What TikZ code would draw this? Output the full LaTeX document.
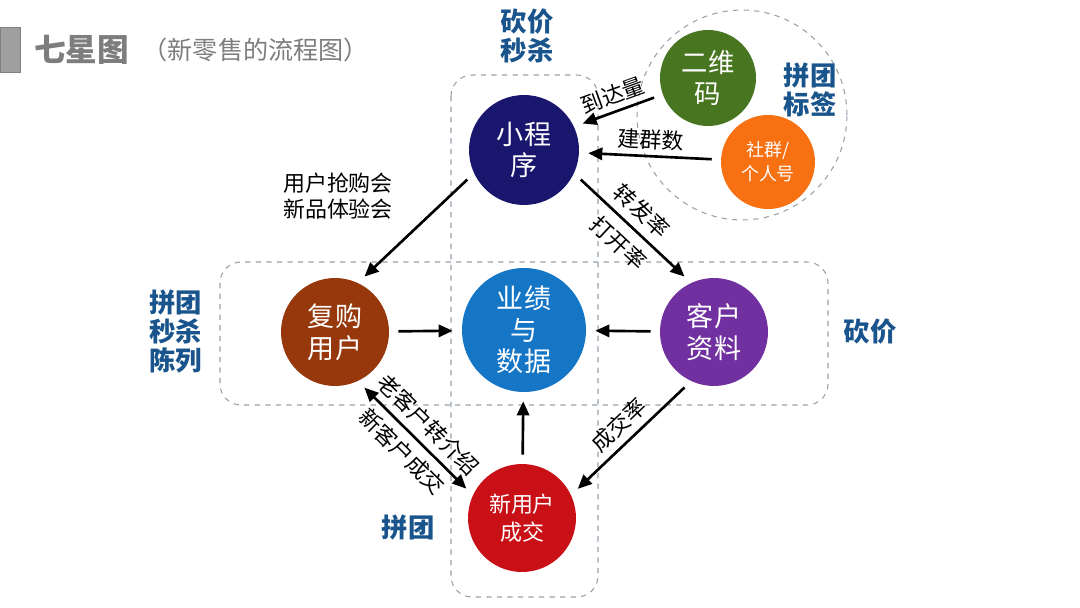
\documentclass[tikz,border=0pt]{standalone}
\usepackage{fontspec}
\setmainfont{Noto Sans CJK SC}
\usetikzlibrary{arrows.meta}
\definecolor{navyball}{RGB}{25,22,110}
\definecolor{greenball}{RGB}{72,118,32}
\definecolor{orangeball}{RGB}{247,112,18}
\definecolor{brownball}{RGB}{150,55,12}
\definecolor{blueball}{RGB}{22,118,198}
\definecolor{purpleball}{RGB}{112,48,160}
\definecolor{redball}{RGB}{200,16,22}
\definecolor{tagblue}{RGB}{25,85,140}
\definecolor{titlegray}{RGB}{125,125,125}
\definecolor{zonegray}{RGB}{150,160,170}
\tikzset{
  ball/.style={circle, fill=#1, text=white, align=center, inner sep=0pt},
  tag/.style={text=tagblue, font=\bfseries\fontsize{15}{16.5}\selectfont, align=center},
  lab/.style={font=\fontsize{12.5}{15}\selectfont, inner sep=1pt, align=center},
  arr/.style={-{Triangle[length=8pt,width=7pt]}, line width=1.5pt, shorten >=0.18cm, shorten <=0.18cm},
  arrs/.style={arr, {Triangle[length=8pt,width=7pt]}-{Triangle[length=8pt,width=7pt]}},
  zone/.style={draw=zonegray, dashed, line width=0.6pt, rounded corners=12pt}
}
\begin{document}
\begin{tikzpicture}[x=0.02cm, y=-0.02cm]
\useasboundingbox (0,0) rectangle (1080,608);
% title
\fill[gray!75, draw=gray] (0,27) rectangle (20,72);
\node[anchor=west, text=titlegray, font=\bfseries\fontsize{18}{20}\selectfont] (title) at (28,50) {七星图};
\node[anchor=west, text=titlegray, font=\fontsize{14.3}{16}\selectfont, inner sep=0pt] (subtitle) at ([xshift=4pt]title.east) {（新零售的流程图）};
% dashed zones
\draw[zone] (451,75) rectangle (598,597);
\draw[zone] (220,262) rectangle (828,405);
\draw[zonegray, dashed, line width=0.6pt] (742,115) circle[radius=2.1cm];
% balls
\node[ball=navyball, minimum size=2.2cm, font=\fontsize{15.4}{18}\selectfont] (xcx) at (524,150) {小程\\序};
\node[ball=greenball, minimum size=1.92cm, font=\fontsize{15}{18}\selectfont] (ewm) at (708,78) {二维\\码};
\node[ball=orangeball, minimum size=1.88cm, font=\fontsize{10.2}{13.5}\selectfont] (sq) at (768,162) {社群/\\个人号};
\node[ball=brownball, minimum size=2.16cm, font=\fontsize{15.4}{18}\selectfont] (fg) at (335,332) {复购\\用户};
\node[ball=blueball, minimum size=2.48cm, font=\fontsize{15.4}{18}\selectfont] (yj) at (524,330) {业绩\\与\\数据};
\node[ball=purpleball, minimum size=2.16cm, font=\fontsize{15.4}{18}\selectfont] (kh) at (714,332) {客户\\资料};
\node[ball=redball, minimum size=2.16cm, font=\fontsize{12.5}{16}\selectfont] (xy) at (522,518) {新用户\\成交};
% tags
\node[tag] (kjms) at (527,36) {砍价\\秒杀};
\node[tag] (ptbq) at (810,90) {拼团\\标签};
\node[tag] (ptms) at (176,332) {拼团\\秒杀\\陈列};
\node[tag] (kj) at (870,332) {砍价};
\node[tag] (pt) at (408,527) {拼团};
% arrows
\draw[arr] (ewm.200) -- (xcx.25) node[lab, midway, sloped, above=2pt] {到达量};
\draw[arr] (sq) -- (xcx) node[lab, midway, sloped, above=2pt] {建群数};
\draw[arr] (xcx.205) -- (fg.65);
\node[lab] (qgh) at (338,196) {用户抢购会\\新品体验会};
\draw[arr] (xcx.335) -- (kh.115) node[lab, pos=0.47, sloped, above=3pt] {转发率} node[lab, pos=0.5, sloped, below=4pt] {打开率};
\draw[arr] (fg) -- (yj);
\draw[arr] (kh) -- (yj);
\draw[arr] (xy) -- (yj);
\draw[arr] (kh.245) -- (xy.25) node[lab, midway, sloped, above=3pt] {成交率};
\draw[arrs] (fg.295) -- (xy.155) node[lab, midway, sloped, above=3pt] {老客户转介绍} node[lab, midway, sloped, below=3pt] {新客户成交};
\end{tikzpicture}
\end{document}
